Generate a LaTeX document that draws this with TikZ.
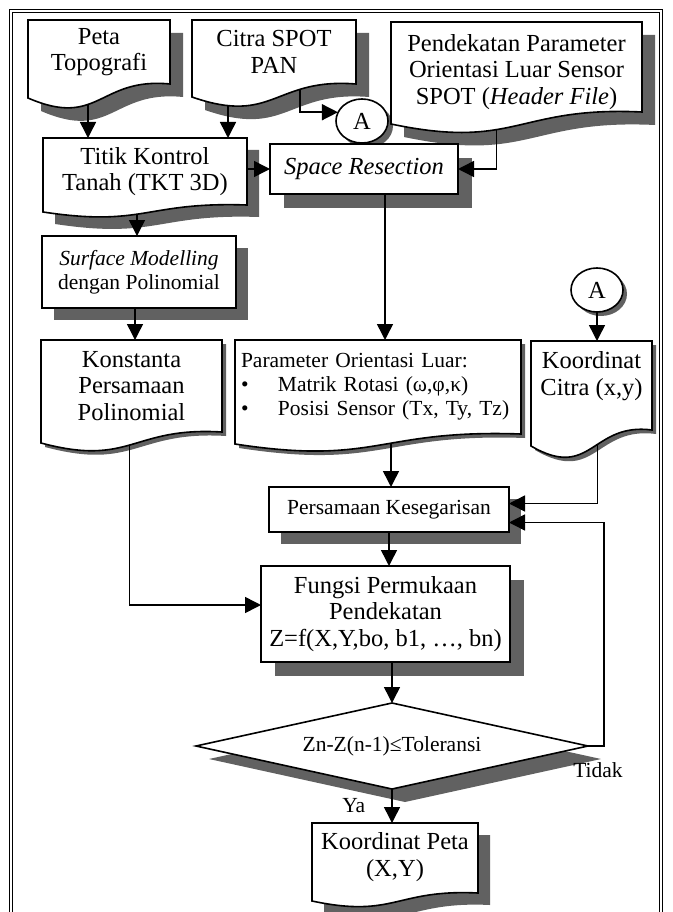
\documentclass[tikz,border=0pt]{standalone}
\usepackage{fontspec}
\setmainfont{Liberation Serif}
\usetikzlibrary{calc,positioning,arrows.meta,shapes.geometric}
\pgfdeclarelayer{shadowlayer}
\pgfdeclarelayer{linelayer}
\pgfdeclarelayer{boxlayer}
\pgfsetlayers{shadowlayer,linelayer,boxlayer,main}

\def\totalwidth{672}
\def\totalheight{912}
\tikzstyle{txt}        = [inner sep=0pt,outer sep=0pt,align=center,
                          font=\fontsize{24.5}{26.5}\selectfont]
\tikzstyle{smalltext}  = [font=\fontsize{21.5}{24}\selectfont]
\tikzstyle{oval}       = [ellipse,inner sep=0pt,minimum width=52,minimum height=44,
                          font=\fontsize{24.5}{26.5}\selectfont]
\tikzstyle{boxline}    = [draw=black,fill=white,line width=1.6pt]
\tikzstyle{shadowfill} = [fill=black!62]
\tikzstyle{arr}        = [line width=1.5pt,-{Triangle[length=16pt,width=16pt]}]
\tikzstyle{lbl}        = [smalltext,inner sep=0pt]

% outlines drawn from the anchors of a (text only) node
\newcommand{\docpath}[3]{(#1.north west) -- (#1.north east) -- ($(#1.south east)+(0,#3)$)
    .. controls ($(#1.south)+(0,#3-0.5*#2)$) and ($(#1.south)+(0,#3+3.2*#2)$)
    .. ($(#1.south west)+(0,#3+#2)$) -- cycle}
\newcommand{\boxpath}[1]{(#1.north west) rectangle (#1.south east)}
\newcommand{\diapath}[1]{(#1.north) -- (#1.east) -- (#1.south) -- (#1.west) -- cycle}
\newcommand{\ovalpath}[1]{(#1.center) ellipse [x radius=26,y radius=22]}
\newcommand{\outlined}[2]{%
    \begin{pgfonlayer}{shadowlayer}
        \fill[shadowfill,transform canvas={shift={(#2pt,-#2pt)}}] #1;
    \end{pgfonlayer}
    \begin{pgfonlayer}{boxlayer}
        \path[boxline] #1;
    \end{pgfonlayer}}

\begin{document}
\begin{tikzpicture}[x=1pt,y=-1pt]
        \useasboundingbox (0,0) rectangle (\totalwidth,\totalheight);

        % Frame
        \draw[double,double distance=2.5pt,line width=1pt] (11,\totalheight) -- (11,11) -- (661,11) -- (661,\totalheight);

        % Row 1
        \node[txt,minimum width=142,minimum height=64] (peta) at (99,52) {Peta\\Topografi};
        \node[txt,minimum width=164,minimum height=64] (citra) at (274,52) {Citra SPOT\\PAN};
        \node[txt,minimum width=251,minimum height=100] (pend) at (516.5,72)
              {Pendekatan Parameter\\Orientasi Luar Sensor\\SPOT (\textit{Header File})};
        \node[oval] (aone) at (362,121) {A};

        % Row 2
        \node[txt,minimum width=204,minimum height=67] (titik) at (145,171.5) {Titik Kontrol\\Tanah (TKT 3D)};
        \node[txt,minimum width=188,minimum height=50] (space) at (364,169) {\textit{Space Resection}};
        \node[txt,smalltext,minimum width=194,minimum height=72] (surface) at (139,272)
              {\textit{Surface Modelling}\\dengan Polinomial};
        \node[oval] (atwo) at (597,290) {A};

        % Row 3
        \node[txt,minimum width=181,minimum height=92] (konst) at (131.5,386) {Konstanta\\Persamaan\\Polinomial};
        \node[txt,smalltext,align=left,text width=274pt,minimum width=286,minimum height=94] (param) at (378,387)
              {Parameter Orientasi Luar:\\
               \makebox[37pt][l]{•}Matrik Rotasi (ω,φ,κ)\\
               \makebox[37pt][l]{•}Posisi Sensor (Tx, Ty, Tz)};
        \node[txt,minimum width=121,minimum height=70] (kcitra) at (591.5,376) {Koordinat\\Citra (x,y)};

        % Iteration
        \node[txt,smalltext,minimum width=240,minimum height=45] (pers) at (389,509.5) {Persamaan Kesegarisan};
        \node[txt,minimum width=249,minimum height=96] (fungsi) at (385.5,614)
              {Fungsi Permukaan\\Pendekatan\\Z=f(X,Y,bo, b1, \dots, bn)};
        \node[txt,smalltext,minimum width=392,minimum height=86] (dia) at (392,746) {Zn-Z(n-1)≤Toleransi};
        \node[txt,minimum width=166,minimum height=68] (kpeta) at (395,857) {Koordinat Peta\\(X,Y)};

        % Outlines and shadows
        \outlined{\docpath{peta}{14}{0}}{13}
        \outlined{\docpath{citra}{13}{0}}{13}
        \outlined{\docpath{pend}{12}{-10}}{13}
        \outlined{\ovalpath{aone}}{5}
        \outlined{\docpath{titik}{7}{0}}{12}
        \outlined{\boxpath{space}}{14}
        \outlined{\boxpath{surface}}{12}
        \outlined{\ovalpath{atwo}}{4}
        \outlined{\docpath{konst}{11}{0}}{4}
        \outlined{\docpath{param}{10}{0}}{4}
        \outlined{\docpath{kcitra}{16}{19}}{4}
        \outlined{\boxpath{pers}}{12}
        \outlined{\boxpath{fungsi}}{14}
        \outlined{\diapath{dia}}{13}
        \outlined{\docpath{kpeta}{8}{2}}{12}

        % Connectors
        \begin{pgfonlayer}{linelayer}
            \draw[arr] ([xshift=-11pt]peta.south) -- ([xshift=-11pt]peta.south |- titik.north);
            \draw[arr] ([xshift=-46pt]citra.south) -- ([xshift=-46pt]citra.south |- titik.north);
            \draw[arr] ([xshift=26pt]citra.south) |- (aone.160);
            \draw[arr] (titik.east |- space.west) -- (space.west);
            \draw[arr] ([xshift=-20pt]pend.south) |- (space.east);
            \draw[arr] ([xshift=-8pt]titik.south) -- ([xshift=-8pt]titik.south |- surface.north);
            \draw[arr] ([xshift=21pt]space.south) -- ([xshift=21pt]space.south |- param.north);
            \draw[arr] ([xshift=-4pt]surface.south) -- ([xshift=-4pt]surface.south |- konst.north);
            \draw[arr] (atwo.south) -- (atwo.south |- kcitra.north);
            \draw[arr] ([xshift=-2pt]konst.south) |- ([yshift=9pt]fungsi.west);
            \draw[arr] ([xshift=13pt]param.south) -- ([xshift=13pt]param.south |- pers.north);
            \draw[arr] ([xshift=6pt]kcitra.south) |- ([yshift=6pt]pers.east);
            \draw[arr] (pers.south) -- (pers.south |- fungsi.north);
            \draw[arr] (dia.north |- fungsi.south) -- (dia.north);
            \draw[arr] (dia.south) -- node[lbl,left=26pt] (ya) {Ya} (dia.south |- kpeta.north);
            \draw[arr] (dia.east) -- ++(16,0) coordinate (turn)
                  node[lbl,below=16pt,xshift=-6pt] (tidak) {Tidak} |- ([yshift=-13pt]pers.east);
        \end{pgfonlayer}
    \end{tikzpicture}
\end{document}
